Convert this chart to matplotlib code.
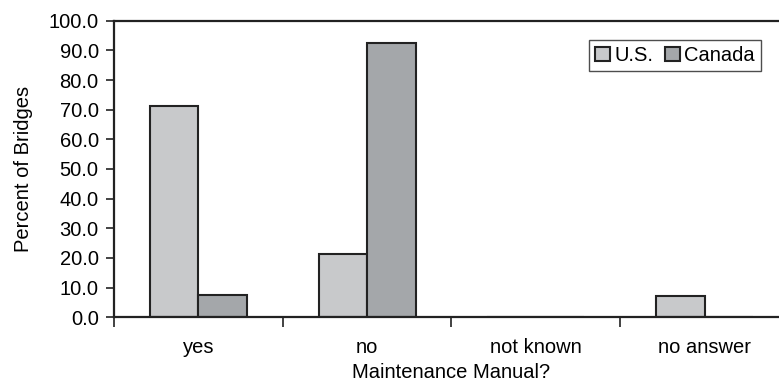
import numpy as np
import matplotlib
matplotlib.use("Agg")
import matplotlib.pyplot as plt
from matplotlib.ticker import FormatStrFormatter

plt.rcParams["font.family"] = ["Liberation Sans", "DejaVu Sans"]

categories = ["yes", "no", "not known", "no answer"]
us_vals = [71.3, 21.3, 0.0, 7.2]
canada_vals = [7.5, 92.4, 0.0, 0.0]

FS = 14.5

fig = plt.figure(figsize=(7.79, 3.84), dpi=100)
# right frame falls just outside the image in the reference
ax = fig.add_axes([114 / 779, 1 - 317.3 / 384, 675 / 779, 296.6 / 384])

x = np.arange(len(categories))
w = 0.287
ax.bar(x - w / 2, us_vals, w, color="#c8c9cb", edgecolor="#222222", linewidth=1.5, label="U.S.")
ax.bar(x + w / 2, canada_vals, w, color="#a4a7aa", edgecolor="#222222", linewidth=1.5, label="Canada")

ax.set_xlim(-0.5, len(categories) - 0.5)
ax.set_ylim(0, 100)
ax.set_yticks(np.arange(0, 101, 10))
ax.yaxis.set_major_formatter(FormatStrFormatter("%.1f"))
ax.set_xticks(np.arange(-0.5, len(categories), 1.0))
ax.set_xticklabels([])
ax.set_xticks(x, minor=True)
ax.set_xticklabels(categories, minor=True)
ax.tick_params(axis="x", which="minor", length=0, pad=15, labelsize=FS)
ax.tick_params(axis="x", which="major", length=7, width=1.2, color="#222222")
ax.tick_params(axis="y", length=6, width=1.2, color="#222222", labelsize=FS, pad=5)

for s in ["top", "left", "bottom", "right"]:
    ax.spines[s].set_linewidth(1.6)
    ax.spines[s].set_color("#222222")

ax.set_ylabel("Percent of Bridges", fontsize=FS, labelpad=11)
ax.set_xlabel("Maintenance Manual?", fontsize=FS, labelpad=4)

leg = ax.legend(loc="upper right", bbox_to_anchor=(761 / 779, 1 - 40 / 384),
                bbox_transform=fig.transFigure, ncol=2, fontsize=FS,
                frameon=True, fancybox=False, edgecolor="#222222",
                handlelength=0.75, handleheight=0.75, handletextpad=0.2,
                columnspacing=0.6, borderpad=0.3, borderaxespad=0)
leg.get_frame().set_linewidth(1.0)

fig.savefig("out.png", dpi=100)
